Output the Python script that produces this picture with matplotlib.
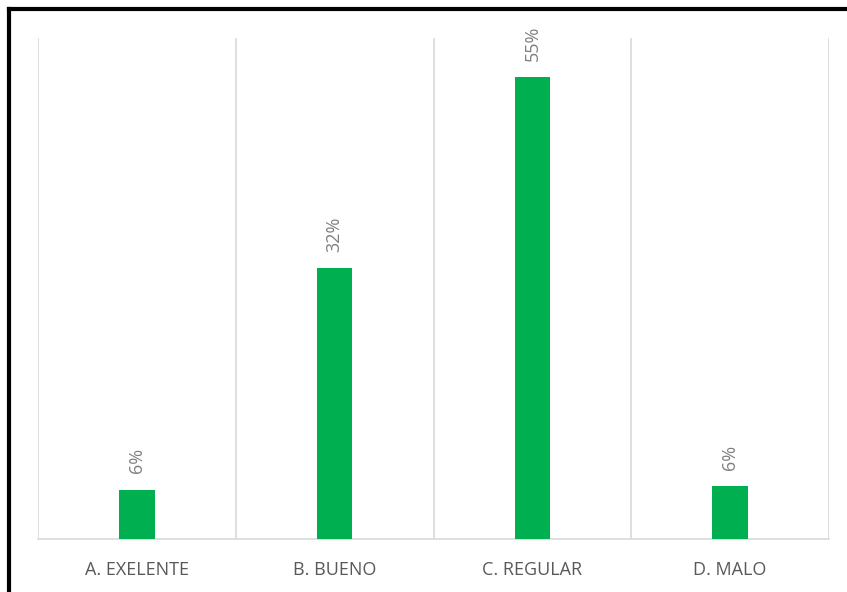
import matplotlib
matplotlib.use('Agg')
import matplotlib.pyplot as plt
from matplotlib.lines import Line2D

categories = ['A. EXELENTE', 'B. BUENO', 'C. REGULAR', 'D. MALO']
values = [5.9, 32.4, 55.3, 6.3]
labels = ['6%', '32%', '55%', '6%']

W, H = 847, 592
fig = plt.figure(figsize=(W / 100, H / 100), dpi=100)
ax = fig.add_axes([38 / W, 1 - 539 / H, (829 - 38) / W, (539 - 38) / H])

x = range(len(categories))
ax.bar(x, values, width=0.18, color='#00b050', zorder=3)
for xi, v, lab in zip(x, values, labels):
    ax.text(xi, v + 2.0, lab, rotation=90, ha='center', va='bottom',
            color='#7f7f7f', fontsize=13, family='Open Sans')

ax.set_xlim(-0.5, len(categories) - 0.5)
ax.set_ylim(0, 60)
ax.set_yticks([])
ax.set_xticks(list(x))
ax.set_xticklabels(categories, fontsize=13, color='#595959', family='Open Sans')
ax.tick_params(axis='x', length=0, pad=16)

# category separators
for b in [i - 0.5 for i in range(len(categories) + 1)]:
    ax.axvline(b, color='#d9d9d9', linewidth=1.2, zorder=1)

for side in ['top', 'left', 'right']:
    ax.spines[side].set_visible(False)
ax.spines['bottom'].set_color('#d9d9d9')
ax.spines['bottom'].set_linewidth(1.2)

# black frame around the picture
fig.add_artist(Line2D([9 / W, 1.0], [1 - 9 / H, 1 - 9 / H], color='black', linewidth=3,
                      transform=fig.transFigure))
fig.add_artist(Line2D([9 / W, 9 / W], [0.0, 1 - 9 / H], color='black', linewidth=3,
                      transform=fig.transFigure))

fig.savefig('out.png', dpi=100)
